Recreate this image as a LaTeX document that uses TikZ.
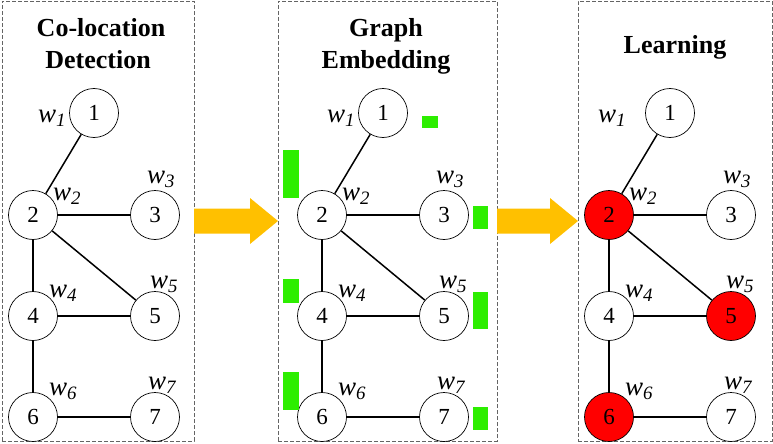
\documentclass[tikz,border=0pt]{standalone}
\usepackage{fontspec}
\setmainfont{Liberation Serif}
\definecolor{amber}{RGB}{255,192,0}
\definecolor{leaf}{RGB}{45,238,0}
\definecolor{hotred}{RGB}{255,0,0}
\definecolor{frame}{RGB}{100,100,100}
\newcommand{\vtxfont}{\fontsize{23}{23}\selectfont}
\newcommand{\labfont}{\fontsize{27}{27}\selectfont\itshape}
\newcommand{\headfont}{\fontsize{26}{26}\selectfont\bfseries}

\begin{document}
\begin{tikzpicture}[x=1pt,y=-1pt,
  vtx/.style={circle,draw,line width=0.7pt,minimum size=49pt,inner sep=0pt,font=\vtxfont},
  edge/.style={line width=1.5pt},
  wlab/.style={font=\labfont,inner sep=0pt},
  head/.style={font=\headfont,anchor=base,inner sep=0pt},
  panel/.style={draw=frame,line width=0.8pt,dash pattern=on 4pt off 2pt,inner sep=0pt,outer sep=0pt,minimum height=440pt}]
\useasboundingbox (0,0) rectangle (773,444);

% dashed frames
\node [panel, minimum width=192pt] (pa) at (98,221) {};
\node [panel, minimum width=219pt] (pb) at (387.5,221) {};
\node [panel, minimum width=194pt] (pc) at (675,221) {};

% titles
\node [head] (ha1) at (101,37) {Co-location};
\node [head] (ha2) at (98,68) {Detection};
\node [head] (hb1) at (386,37) {Graph};
\node [head] (hb2) at (386,68) {Embedding};
\node [head] (hc) at (675,53) {Learning};

% the three graphs
\foreach \p/\ox/\wx/\fb/\fe/\fg in {a/0/-42/white/white/white, b/289/-42/white/white/white, c/576/-58/hotred/hotred/hotred}{
  \node [vtx] (\p1) at (94+\ox,113) {1};
  \node [vtx, fill=\fb] (\p2) at (33+\ox,215) {2};
  \node [vtx] (\p3) at (155+\ox,215) {3};
  \node [vtx] (\p4) at (33+\ox,316) {4};
  \node [vtx, fill=\fe] (\p5) at (155+\ox,316) {5};
  \node [vtx, fill=\fg] (\p6) at (33+\ox,417) {6};
  \node [vtx] (\p7) at (155+\ox,417) {7};
  \draw [edge] (\p1) -- (\p2);
  \draw [edge] (\p2) -- (\p3);
  \draw [edge] (\p2) -- (\p4);
  \draw [edge] (\p2) -- (\p5);
  \draw [edge] (\p4) -- (\p5);
  \draw [edge] (\p4) -- (\p6);
  \draw [edge] (\p6) -- (\p7);
  \node [wlab] (w1\p) at ([shift={(\wx,5)}]\p1) {w\textsubscript{1}};
  \node [wlab] (w2\p) at ([shift={(34,-19)}]\p2) {w\textsubscript{2}};
  \node [wlab] (w3\p) at ([shift={(6,-36)}]\p3) {w\textsubscript{3}};
  \node [wlab] (w4\p) at ([shift={(30,-23)}]\p4) {w\textsubscript{4}};
  \node [wlab] (w5\p) at ([shift={(9,-32)}]\p5) {w\textsubscript{5}};
  \node [wlab] (w6\p) at ([shift={(30,-26)}]\p6) {w\textsubscript{6}};
  \node [wlab] (w7\p) at ([shift={(7,-32)}]\p7) {w\textsubscript{7}};
}

% embedding bars
\foreach \xa/\ya/\xb/\yb in {422/116/438/128, 283/150/299/198, 473/206/488/229, 283/279/299/303,
                             473/292/488/329, 283/372/299/410, 473/407/488/430}
  \fill [leaf] (\xa,\ya) rectangle (\xb,\yb);

% block arrows between the frames
\foreach \s/\t in {pa/pb, pb/pc}
  \fill [amber] ([yshift=12.5pt]\s.east) -- ([xshift=-28pt,yshift=12.5pt]\t.west)
    -- ([xshift=-28pt,yshift=23pt]\t.west) -- (\t.west)
    -- ([xshift=-28pt,yshift=-23pt]\t.west) -- ([xshift=-28pt,yshift=-12.5pt]\t.west)
    -- ([yshift=-12.5pt]\s.east) -- cycle;

\end{tikzpicture}
\end{document}
